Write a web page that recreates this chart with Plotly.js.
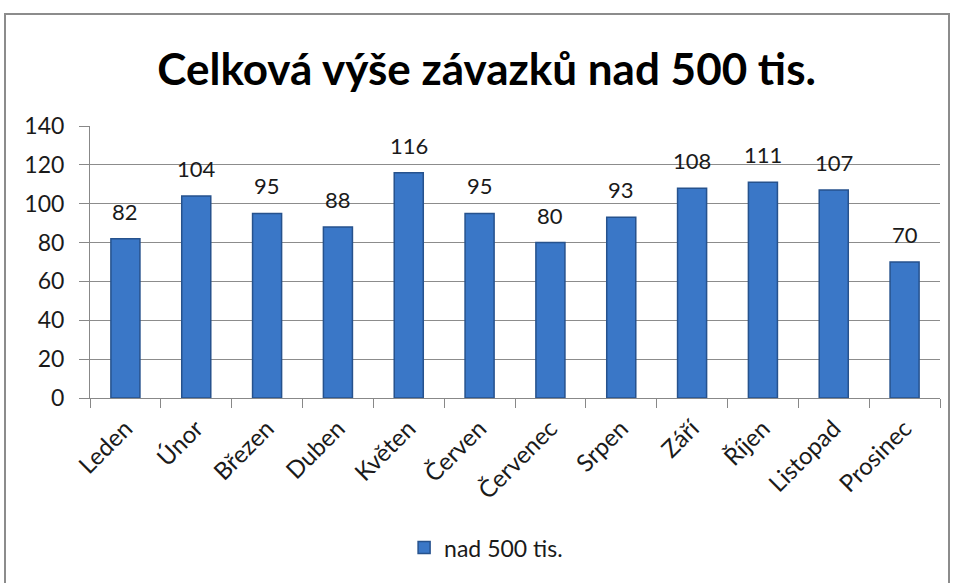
<!DOCTYPE html>
<html>
<head>
<meta charset="utf-8">
<script src="https://cdn.plot.ly/plotly-3.0.1.min.js"></script>
<style>
  html, body { margin: 0; padding: 0; background: #fff; }
  #wrap { position: relative; width: 958px; height: 583px; }
  #chart { width: 958px; height: 583px; }
  #frame { position: absolute; left: 4px; top: 13px; width: 946px; height: 580px; border: 2px solid #8c8c8c; box-sizing: border-box; pointer-events: none; }
</style>
</head>
<body>
<div id="wrap">
  <div id="chart"></div>
  <div id="frame"></div>
</div>
<script>
const months = ["Leden", "Únor", "Březen", "Duben", "Květen", "Červen", "Červenec", "Srpen", "Září", "Říjen", "Listopad", "Prosinec"];
const values = [82, 104, 95, 88, 116, 95, 80, 93, 108, 111, 107, 70];
const seriesName = "nad 500 tis.";
const chartTitle = "Celková výše závazků nad 500 tis.";
const yTicks = [0, 20, 40, 60, 80, 100, 120, 140];

const FONT = "Lato, Carlito, Calibri, 'Open Sans', sans-serif";

const bars = {
  type: "bar",
  x: months,
  y: values,
  name: seriesName,
  marker: { color: "#3a77c7", line: { color: "#26528d", width: 1.5 } },
  hoverinfo: "x+y",
  showlegend: true
};

const annotations = months.map((m, i) => ({
  x: m, y: values[i], xref: "x", yref: "y",
  text: String(values[i]),
  showarrow: false, yanchor: "bottom", yshift: 12,
  font: { family: FONT, size: 22, color: "#1a1a1a" }
}));

const layout = {
  width: 958, height: 583,
  paper_bgcolor: "#ffffff", plot_bgcolor: "#ffffff",
  margin: { l: 90, r: 18, t: 126, b: 185 },
  title: {
    text: "<b>" + chartTitle + "</b>",
    x: 0.508, xanchor: "center",
    y: 0.88, yanchor: "middle", yref: "container",
    font: { family: FONT, size: 44, color: "#000000" }
  },
  bargap: 0.59,
  xaxis: {
    type: "category",
    tickangle: -45,
    ticks: "outside", ticklen: 9, tickcolor: "#888888", tickson: "boundaries",
    ticklabelstandoff: 6,
    showline: true, linecolor: "#888888", linewidth: 1,
    showgrid: false,
    tickfont: { family: FONT, size: 24, color: "#1a1a1a" }
  },
  yaxis: {
    range: [0, 140],
    tickvals: yTicks,
    ticks: "outside", ticklen: 10, tickcolor: "#888888",
    ticklabelstandoff: 10,
    showline: true, linecolor: "#888888", linewidth: 1,
    showgrid: true, gridcolor: "#8c8c8c", gridwidth: 1,
    zeroline: false,
    tickfont: { family: FONT, size: 23, color: "#1a1a1a" }
  },
  showlegend: true,
  legend: {
    orientation: "h",
    x: 0.466, xanchor: "center",
    y: -0.55, yanchor: "middle",
    font: { family: FONT, size: 23, color: "#1a1a1a" },
    itemwidth: 30
  },
  annotations: annotations
};

Plotly.newPlot("chart", [bars], layout, { displayModeBar: false, staticPlot: true });
</script>
</body>
</html>
